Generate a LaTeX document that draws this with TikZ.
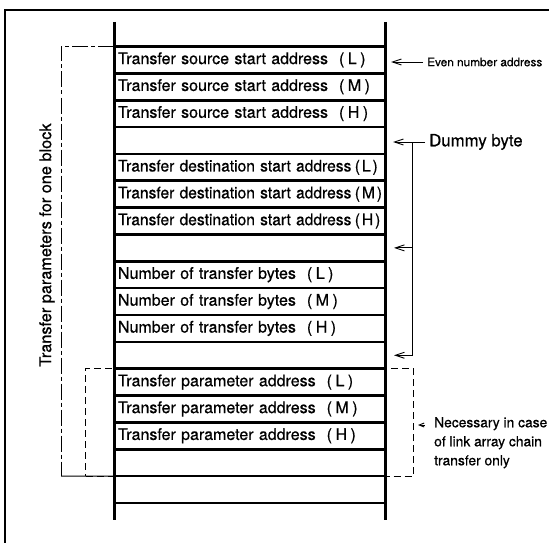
\documentclass[tikz,border=0pt]{standalone}
\usepackage{fontspec}
\setmainfont{TeX Gyre Heros}
\newfontfamily\hvb{TeX Gyre Heros}[FakeBold=0.6]
\usepackage{graphicx}
\usetikzlibrary{arrows.meta,fit,positioning}
\newcommand{\pp}[1]{\hspace{11pt}(\kern3.5pt #1\kern3.5pt)}
\newcommand{\pd}[1]{\kern3.5pt(\kern2pt #1\kern2pt)}
\newcommand{\dst}[1]{\scalebox{0.975}[1]{Transfer destination start address\pd{#1}}}
\begin{document}
\begin{tikzpicture}[x=1pt,y=-1pt,
  rowbox/.style={draw, line width=2.6pt, outer sep=0pt, minimum width=271pt,
    minimum height=26.85pt, inner xsep=4pt, inner ysep=0pt, text width=263pt,
    align=left, font=\hvb\fontsize{16}{19}\selectfont, anchor=north west},
  colline/.style={line width=3pt},
  bracket/.style={line width=1pt, dash pattern=on 16pt off 3pt on 4pt off 3pt},
  solidthin/.style={line width=1pt},
  dbox/.style={draw, line width=1pt, dash pattern=on 7pt off 4pt, inner ysep=0pt, inner xsep=28.5pt},
  lab/.style={inner sep=0pt},
  arr/.style={-{Straight Barb[length=9pt,width=6pt]}, line width=0.9pt},
  arrs/.style={-{Straight Barb[length=5pt,width=4pt]}, line width=0.9pt}]
\useasboundingbox (0,0) rectangle (549,543);
\clip (0,0) rectangle (549,543);
\fill[white] (0,0) rectangle (549,543);
% outer frame
\draw[line width=1.6pt] (5,560) -- (5,10) -- (560,10);
% rows
\node[rowbox] (r0) at (114,46.5) {Transfer source start address\pp{L}};
\node[rowbox,below=0pt of r0] (r1) {Transfer source start address\pp{M}};
\node[rowbox,below=0pt of r1] (r2) {Transfer source start address\pp{H}};
\node[rowbox,below=0pt of r2] (r3) {};
\node[rowbox,below=0pt of r3] (r4) {\dst{L}};
\node[rowbox,below=0pt of r4] (r5) {\dst{M}};
\node[rowbox,below=0pt of r5] (r6) {\dst{H}};
\node[rowbox,below=0pt of r6] (r7) {};
\node[rowbox,below=0pt of r7] (r8) {Number of transfer bytes\pp{L}};
\node[rowbox,below=0pt of r8] (r9) {Number of transfer bytes\pp{M}};
\node[rowbox,below=0pt of r9] (r10) {Number of transfer bytes\pp{H}};
\node[rowbox,below=0pt of r10] (r11) {};
\node[rowbox,below=0pt of r11] (r12) {Transfer parameter address\pp{L}};
\node[rowbox,below=0pt of r12] (r13) {Transfer parameter address\pp{M}};
\node[rowbox,below=0pt of r13] (r14) {Transfer parameter address\pp{H}};
\node[rowbox,below=0pt of r14] (r15) {};
\node[rowbox,below=0pt of r15] (r16) {};
% column sides
\draw[colline] ([yshift=24.5pt]r0.north west) -- ([yshift=-17pt]r16.south west);
\draw[colline] ([yshift=24.5pt]r0.north east) -- ([yshift=-17pt]r16.south east);
% bracket for one block
\coordinate (bt) at (61,46.5);
\coordinate (bb) at (61,476.1);
\draw[bracket] (r0.north west) -- (bt) -- (bb);
\draw[solidthin] (bb) -- (r16.north west);
\node[lab, rotate=90, font=\hvb\fontsize{16.3}{19}\selectfont] (blk) at (47,245) {Transfer parameters for one block};
% dashed box
\node[dbox, fit=(r12)(r15)] (dbx) {};
% even number address
\node[lab, anchor=west, font=\hvb\fontsize{11.8}{14}\selectfont] (even) at (427,62) {Even number address};
\draw[arr, shorten <=4pt, shorten >=6pt] (even.west) -- (even.west -| r0.east);
% dummy byte
\node[lab, anchor=west, font=\hvb\fontsize{16.8}{19}\selectfont] (dummy) at (429,142) {Dummy byte};
\draw[arr, shorten <=4pt, shorten >=8pt] (dummy.west) -- (dummy.west -| r3.east);
\path (dummy.west) ++(-16.5pt,0pt) coordinate (vt);
\coordinate (vb) at (vt |- r11.east);
\draw[solidthin] (vt) -- (vb);
\draw[arr, shorten >=9pt] (vb) -- (r11.east);
\draw[arr, shorten >=9pt] (vt |- r7.east) -- (r7.east);
% necessary note
\node[lab, anchor=north west, align=left, font=\hvb\fontsize{13.8}{19}\selectfont] (nec) at (434,417) {Necessary in case\\of link array chain\\transfer only};
\path ([yshift=-8pt]nec.north west) coordinate (na);
\draw[arrs, shorten <=9pt, shorten >=4pt] (na) -- (na -| dbx.east);
\end{tikzpicture}
\end{document}
